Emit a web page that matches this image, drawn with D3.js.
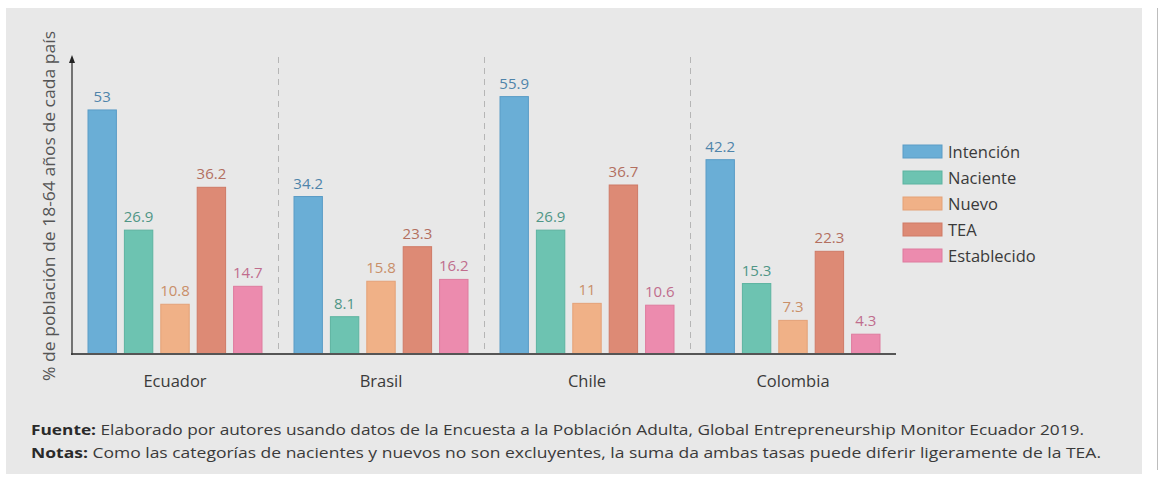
<!DOCTYPE html>
<html>
<head>
<meta charset="utf-8">
<script src="https://cdn.jsdelivr.net/npm/d3@7"></script>
<style>
  html, body { margin: 0; padding: 0; background: #ffffff; }
  svg { display: block; }
</style>
</head>
<body>
<svg id="chart" width="1159" height="481"></svg>
<script>
// Countries along the x axis
const countries = ["Ecuador", "Brasil", "Chile", "Colombia"];
// Indicator series (one bar per indicator in each country)
const seriesNames = ["Intención", "Naciente", "Nuevo", "TEA", "Establecido"];
// Values per series, in country order
const intencion   = [53, 34.2, 55.9, 42.2];
const naciente    = [26.9, 8.1, 26.9, 15.3];
const nuevo       = [10.8, 15.8, 11, 7.3];
const tea         = [36.2, 23.3, 36.7, 22.3];
const establecido = [14.7, 16.2, 10.6, 4.3];
const valueLabels = [
  ["53", "34.2", "55.9", "42.2"],
  ["26.9", "8.1", "26.9", "15.3"],
  ["10.8", "15.8", "11", "7.3"],
  ["36.2", "23.3", "36.7", "22.3"],
  ["14.7", "16.2", "10.6", "4.3"]
];
const seriesValues = [intencion, naciente, nuevo, tea, establecido];

const fillColors  = ["#6aaed6", "#6dc3b1", "#f0b187", "#dd8a75", "#ec8bae"];
const edgeColors  = ["#5a9cc6", "#5cb3a0", "#e4a177", "#cf7a66", "#de7b9e"];
const labelColors = ["#4f84aa", "#4f9686", "#c98f68", "#b36f5f", "#c06d8d"];

const yTitle = "% de población de 18-64 años de cada país";
const noteLines = [
  ["Fuente:", " Elaborado por autores usando datos de la Encuesta a la Población Adulta, Global Entrepreneurship Monitor Ecuador 2019."],
  ["Notas:", " Como las categorías de nacientes y nuevos no son excluyentes, la suma da ambas tasas puede diferir ligeramente de la TEA."]
];

const FONT = "'Open Sans', 'Noto Sans', sans-serif";
const svg = d3.select("#chart");

// Grey panel behind everything
svg.append("rect").attr("x", 6).attr("y", 8).attr("width", 1136).attr("height", 466)
  .attr("fill", "#e8e8e8");
svg.append("line").attr("x1", 1157.5).attr("x2", 1157.5).attr("y1", 8).attr("y2", 470)
  .attr("stroke", "#bdbdbd").attr("stroke-width", 1);

const baseY = 354, topY = 57;
const x0 = d3.scaleBand().domain(countries).range([72, 896]).padding(0);
const x1 = d3.scaleBand().domain(seriesNames).range([16, 190]).paddingInner(0.22).paddingOuter(0);
const y = d3.scaleLinear().domain([0, 64.5]).range([baseY, topY]);

// Dashed separators between countries
svg.append("g").selectAll("line").data(countries.slice(1)).join("line")
  .attr("x1", d => Math.round(x0(d)) + 0.5)
  .attr("x2", d => Math.round(x0(d)) + 0.5)
  .attr("y1", topY).attr("y2", baseY)
  .attr("stroke", "#b5b5b5").attr("stroke-width", 1).attr("stroke-dasharray", "6,5");

// Bars
const groups = svg.append("g").selectAll("g").data(countries).join("g")
  .attr("transform", d => `translate(${x0(d)},0)`);

groups.each(function(country, ci) {
  const g = d3.select(this);
  seriesNames.forEach((s, si) => {
    const v = seriesValues[si][ci];
    g.append("rect")
      .attr("x", x1(s)).attr("y", y(v))
      .attr("width", x1.bandwidth()).attr("height", baseY - y(v))
      .attr("fill", fillColors[si])
      .attr("stroke", edgeColors[si]).attr("stroke-width", 1);
    g.append("text")
      .attr("x", x1(s) + x1.bandwidth() / 2).attr("y", y(v) - 8)
      .attr("text-anchor", "middle")
      .attr("font-family", FONT).attr("font-size", 15)
      .attr("fill", labelColors[si])
      .text(valueLabels[si][ci]);
  });
});

// Axes
const xAxis = d3.axisBottom(x0).tickSize(0).tickPadding(21);
const gx = svg.append("g").attr("transform", `translate(0,${baseY})`).call(xAxis);
gx.select(".domain").attr("stroke", "#555").attr("stroke-width", 2)
  .attr("d", "M71,0H896");
gx.selectAll("text").attr("font-family", FONT).attr("font-size", 16.5).attr("fill", "#3a3a3a");

svg.append("line").attr("x1", 72).attr("x2", 72).attr("y1", baseY + 1).attr("y2", topY + 4)
  .attr("stroke", "#333").attr("stroke-width", 1.3);
svg.append("path").attr("d", `M72,${topY - 2}L69,${topY + 6}L75,${topY + 6}Z`).attr("fill", "#222");

svg.append("text")
  .attr("transform", `translate(55,${(30 + 382) / 2}) rotate(-90)`)
  .attr("text-anchor", "middle")
  .attr("font-family", FONT).attr("font-size", 15.5).attr("fill", "#555")
  .attr("textLength", 350).attr("lengthAdjust", "spacingAndGlyphs")
  .text(yTitle);

// Legend
const legend = svg.append("g").selectAll("g").data(seriesNames).join("g")
  .attr("transform", (d, i) => `translate(903,${145 + i * 26})`);
legend.append("rect").attr("width", 39).attr("height", 13)
  .attr("fill", (d, i) => fillColors[i]).attr("stroke", (d, i) => edgeColors[i]);
legend.append("text").attr("x", 45).attr("y", 13)
  .attr("font-family", FONT).attr("font-size", 16.5).attr("fill", "#3a3a3a")
  .text(d => d);

// Source and notes
const ends = [1084, 1101];
noteLines.forEach((ln, i) => {
  const t = svg.append("text").attr("x", 31).attr("y", 435 + i * 23)
    .attr("font-family", FONT).attr("font-size", 14.5).attr("fill", "#3a3a3a")
    .attr("textLength", ends[i] - 31).attr("lengthAdjust", "spacingAndGlyphs");
  t.append("tspan").attr("font-weight", "bold").attr("fill", "#2a2a2a").text(ln[0]);
  t.append("tspan").text(ln[1]);
});
</script>
</body>
</html>
